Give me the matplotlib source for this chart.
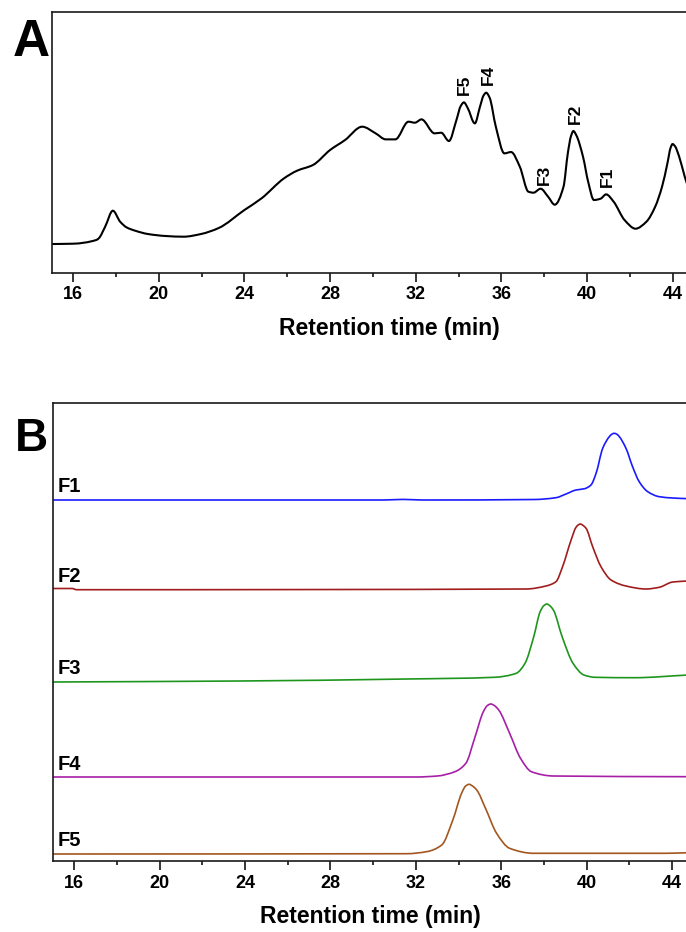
import matplotlib
matplotlib.use("Agg")
import numpy as np
import matplotlib.pyplot as plt
from matplotlib.path import Path
from matplotlib.patches import PathPatch
from matplotlib.ticker import MultipleLocator

plt.rcParams["font.family"] = ["Liberation Sans", "DejaVu Sans"]

# ---------------- Panel A: crude extract chromatogram ----------------
time_a = [15.0, 16.0, 17.08, 17.2, 17.5, 17.86, 18.2, 18.5, 18.9, 19.5,
          20.34, 21.16, 21.97, 22.8, 24.0, 24.8, 25.85, 26.46, 27.2, 28.0,
          28.7, 29.5, 30.13, 30.6, 31.05, 31.66, 31.96, 32.27, 32.88, 33.19,
          33.55, 33.9, 34.1, 34.25, 34.42, 34.76, 35.0, 35.17, 35.29, 35.45,
          35.74, 36.14, 36.45, 36.86, 37.26, 37.5, 37.83, 38.18, 38.49, 38.9,
          39.1, 39.25, 39.36, 39.5, 39.81, 40.05, 40.32, 40.63, 40.89, 41.24,
          41.75, 42.26, 42.77, 43.18, 43.5, 43.75, 43.9, 43.99, 44.1, 44.3,
          44.56, 44.7]
signal_a = [86, 87, 98, 103, 138, 186, 153, 136, 126, 116,
            110, 108, 116, 134, 188, 223, 283, 306, 323, 368,
            398, 438, 418, 400, 400, 453, 450, 460, 418, 420,
            395, 458, 500, 511, 495, 448, 498, 532, 540, 525,
            438, 358, 362, 318, 243, 240, 252, 228, 204, 258,
            358, 410, 425, 412, 348, 273, 218, 222, 235, 213,
            158, 132, 153, 198, 258, 328, 375, 386, 380, 348,
            288, 260]

peak_names_a = ["F5", "F4", "F3", "F2", "F1"]
peak_label_x = [34.26, 35.41, 38.01, 39.47, 40.94]
peak_label_y = [533, 563, 263, 446, 256]

# ---------------- Panel B: purified fractions ----------------
fractions = ["F1", "F2", "F3", "F4", "F5"]
colors = ["#1a1aff", "#a11d1d", "#1e961e", "#a61fa6", "#a3561f"]

time_f1 = [15.0, 30.5, 31.4, 32.3, 37.55, 38.56, 39.03, 39.5, 39.9,
           40.2, 40.44, 40.75, 41.06, 41.18, 41.29, 41.41, 41.53, 41.84,
           42.15, 42.46, 42.86, 43.4, 44.03, 44.75]
int_f1 = [0, 0, 0.6, 0, 0.5, 2.3, 6, 10, 11.3,
          15, 26.7, 51.7, 63.3, 65.8, 66.7, 65.8, 63.3, 51.7,
          33.3, 18.3, 8.3, 3.3, 2, 1.3]

time_f2 = [15.0, 15.9, 16.1, 37.16, 38.09, 38.56, 38.87, 39.27, 39.5, 39.6,
           39.7, 39.8, 39.97, 40.28, 40.67, 41.14, 41.84, 42.78, 43.4, 44.03,
           44.75]
int_f2 = [1.5, 1.5, 0.3, 1, 4, 8.3, 23.3, 50, 62.7, 65,
          66, 65, 61.7, 43.3, 23.3, 10, 4, 1, 2.7, 8,
          9]

time_f3 = [15.0, 23.79, 31.57, 35.67, 36.7, 37.11, 37.52, 37.82, 38.0, 38.13,
           38.26, 38.44, 38.85, 39.36, 39.87, 40.39, 42.23, 44.75]
int_f3 = [0, 1, 3, 4.7, 8.7, 18.7, 45.3, 70.3, 76.5, 78,
          76.5, 72, 45.3, 18.7, 7, 4.7, 4.3, 7]

time_f4 = [15.0, 32.0, 33.0, 33.83, 34.34, 34.75, 35.16, 35.35, 35.51, 35.67,
           35.88, 36.39, 36.9, 37.41, 38.44, 44.75]
int_f4 = [0, 0, 1, 5.3, 13.7, 38.7, 65.3, 71.5, 73, 71.5,
          67, 43.7, 18.7, 5.3, 1, 0.3]

time_f5 = [15.0, 31.57, 32.5, 33.21, 33.73, 34.14, 34.33, 34.49, 34.65, 34.85,
           35.26, 35.78, 36.39, 37.52, 43.67, 44.75]
int_f5 = [0, 0.3, 2.3, 9, 34, 60.7, 68, 69.7, 68, 64,
          45.7, 20.7, 5.7, 0.7, 0.7, 1.3]

# vertical stacking of the fraction traces
offsets = [360.7, 270.7, 178.7, 83.7, 6.7]

traces_t = [time_f1, time_f2, time_f3, time_f4, time_f5]
traces_i = [int_f1, int_f2, int_f3, int_f4, int_f5]

major_ticks = [16, 20, 24, 28, 32, 36, 40, 44]

W, H = 686, 932
fig = plt.figure(figsize=(W / 100, H / 100), dpi=100)


def monotone_slopes(x, y):
    """Shape-preserving (Fritsch-Carlson) tangents at each sample."""
    h = np.diff(x)
    d = np.diff(y) / h
    m = np.empty_like(y)
    m[0], m[-1] = d[0], d[-1]
    for k in range(1, len(x) - 1):
        if d[k - 1] * d[k] <= 0:
            m[k] = 0.0
        else:
            w1 = 2 * h[k] + h[k - 1]
            w2 = h[k] + 2 * h[k - 1]
            m[k] = (w1 + w2) / (w1 / d[k - 1] + w2 / d[k])
    return m


def trace_path(x, y):
    """Smooth Bezier path passing through every sample."""
    x = np.asarray(x, float)
    y = np.asarray(y, float)
    m = monotone_slopes(x, y)
    verts = [(x[0], y[0])]
    codes = [Path.MOVETO]
    for k in range(len(x) - 1):
        h = x[k + 1] - x[k]
        verts += [(x[k] + h / 3, y[k] + m[k] * h / 3),
                  (x[k + 1] - h / 3, y[k + 1] - m[k + 1] * h / 3),
                  (x[k + 1], y[k + 1])]
        codes += [Path.CURVE4] * 3
    return Path(verts, codes)


def draw_trace(ax, x, y, color, lw):
    ax.add_patch(PathPatch(trace_path(x, y), fill=False, edgecolor=color,
                           lw=lw, joinstyle="round", capstyle="round"))


def px_axes(left, top, right, bottom):
    return fig.add_axes([left / W, 1 - bottom / H, (right - left) / W, (bottom - top) / H])


def style_axis(ax, pad):
    for side in ["top", "left", "bottom"]:
        ax.spines[side].set_linewidth(1.2)
        ax.spines[side].set_color("#1a1a1a")
    ax.spines["right"].set_visible(False)
    ax.set_xticks(major_ticks)
    ax.xaxis.set_minor_locator(MultipleLocator(2))
    ax.tick_params(axis="x", which="major", direction="out", length=6.3, width=1.1,
                   labelsize=13, pad=pad)
    ax.tick_params(axis="x", which="minor", direction="out", length=2.6, width=1.1)
    for lab in ax.get_xticklabels():
        lab.set_fontweight("bold")
    ax.set_yticks([])


# Panel A
axA = px_axes(51.6, 11.7, 726.3, 272.7)
draw_trace(axA, time_a, signal_a, "black", 1.5)
axA.set_xlim(15, 46.5)
axA.set_ylim(0, 783)
style_axis(axA, 3.0)
axA.set_xlabel("Retention time (min)", fontsize=16.5, fontweight="bold", labelpad=10.5)
for name, lx, ly in zip(peak_names_a, peak_label_x, peak_label_y):
    axA.text(lx, ly, name, rotation=90, ha="center", va="bottom",
             fontsize=12.5, fontweight="bold")

# Panel B
axB = px_axes(52.95, 403.3, 688.1, 860.7)
for t, inten, off, col, name in zip(traces_t, traces_i, offsets, colors, fractions):
    draw_trace(axB, t, [v + off for v in inten], col, 1.2)
    axB.text(15.2, off + 7.5, name, ha="left", va="baseline",
             fontsize=14.5, fontweight="bold")
axB.set_xlim(15, 44.75)
axB.set_ylim(0, 457.4)
style_axis(axB, 4.3)
axB.set_xlabel("Retention time (min)", fontsize=16.5, fontweight="bold", labelpad=8.8)

# panel letters
fig.text(13 / W, 1 - 56 / H, "A", fontsize=37, fontweight="bold", ha="left", va="baseline")
fig.text(15 / W, 1 - 451 / H, "B", fontsize=33, fontweight="bold", ha="left", va="baseline")

fig.savefig("out.png", dpi=100)
